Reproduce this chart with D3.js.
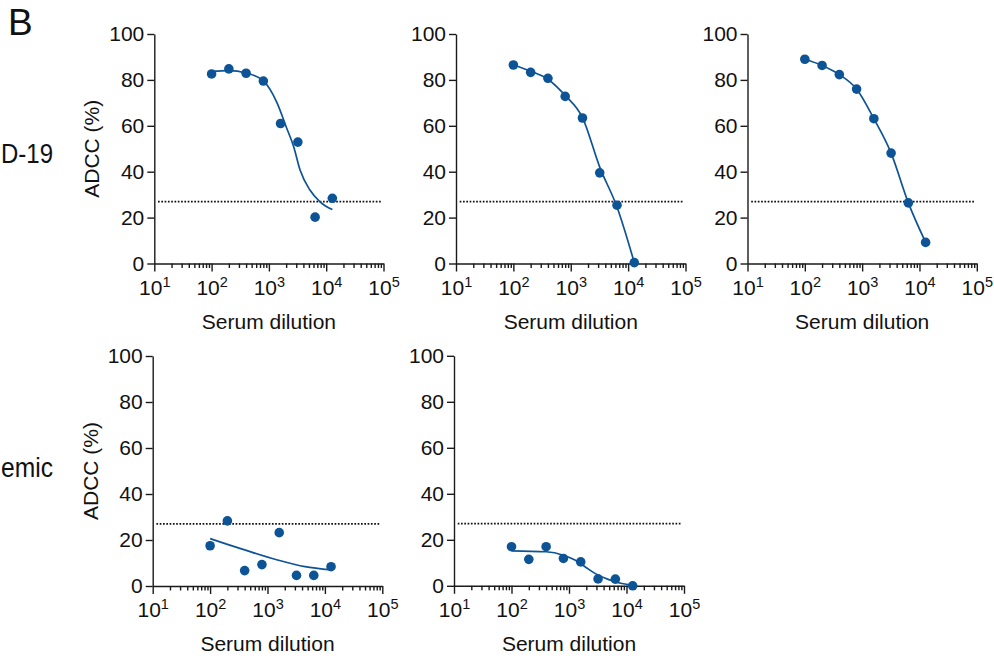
<!DOCTYPE html>
<html>
<head>
<meta charset="utf-8">
<script src="https://cdn.jsdelivr.net/npm/d3@7"></script>
<style>
  body { margin: 0; background: #fff; }
  svg { font-family: "Liberation Sans", Arial, sans-serif; }
  .axis path, .axis line { stroke: #1a1a1a; stroke-width: 1.4px; }
  .axis text { font-size: 21px; fill: #111; font-family: "Liberation Sans", Arial, sans-serif; }
</style>
</head>
<body>
<svg width="994" height="659"></svg>
<script>
// serum dilutions (x) shared by every panel
const dilutions = [100, 200, 400, 800, 1600, 3200, 6400, 12800];

// ADCC (%) measured points
const covid1 = [82.6, 84.8, 82.9, 79.5, 61.0, 52.9, 20.2, 28.4];
const covid2 = [86.5, 83.3, 80.7, 72.8, 63.4, 39.5, 25.4, 0.4];
const covid3 = [89.0, 86.3, 82.3, 76.0, 63.1, 48.1, 26.4, 9.2];
const pre1   = [17.5, 28.3, 6.7, 9.3, 23.2, 4.6, 4.6, 8.4];
const pre2   = [17.0, 11.5, 17.0, 11.9, 10.4, 3.0, 2.9, 0.0];

// fitted curves as [dilution, ADCC]
const fitCovid1 = [[100, 83.7], [200, 84.0], [400, 83.0], [800, 79.6], [1400, 69.8], [2000, 59.6],
                   [2700, 51.0], [3500, 40.7], [5200, 32.0], [7800, 26.9], [12800, 23.5]];
const fitCovid2 = [[100, 86.5], [200, 83.8], [400, 80.3], [800, 73.2], [1600, 63.6], [3200, 42.0],
                   [6400, 24.6], [12800, 0.4]];
const fitCovid3 = [[100, 89.0], [200, 86.3], [400, 82.3], [800, 76.0], [1600, 63.1], [3200, 48.1],
                   [6400, 26.4], [12800, 9.2]];
const fitPre1   = [[100, 20.6], [200, 18.1], [400, 15.7], [1500, 11.3], [4500, 8.4], [12800, 7.0]];
const fitPre2   = [[100, 15.2], [400, 14.8], [800, 13.3], [1270, 11.2], [1900, 8.3], [2830, 5.4],
                   [4800, 2.8], [8300, 1.0], [12800, 0.3]];

const cutoff = 27;                 // dotted threshold line
const cutoffSpan = [11.6, 91000];  // dilution extent of the threshold line

const xExponents = [1, 2, 3, 4, 5];
const yTicks = [0, 20, 40, 60, 80, 100];

const rowLabels = ["D-19", "emic"];   // what is left visible of the row names
const panelLetter = "B";

var blue = "#0d5497";

var svg = d3.select("svg");

// panel frames: left/right of x axis, bottom/top of y axis
var panels = [
  { x0: 154.3, x1: 383.5, y0: 263.5, y1: 34, pts: covid1, fit: fitCovid1, ytitle: true },
  { x0: 456,   x1: 685.5, y0: 263.5, y1: 34, pts: covid2, fit: fitCovid2, ytitle: false },
  { x0: 747.5, x1: 976.8, y0: 263.5, y1: 34, pts: covid3, fit: fitCovid3, ytitle: false },
  { x0: 152.7, x1: 382.3, y0: 586,   y1: 356, pts: pre1,  fit: fitPre1,   ytitle: true },
  { x0: 454,   x1: 684,   y0: 585.8, y1: 355.8, pts: pre2, fit: fitPre2,  ytitle: false }
];

var minorTicks = [];
xExponents.slice(0, -1).forEach(function (e) {
  for (var m = 2; m <= 9; m++) minorTicks.push(m * Math.pow(10, e));
});

panels.forEach(function (p) {
  var x = d3.scaleLog().domain([10, 100000]).range([p.x0, p.x1]);
  var y = d3.scaleLinear().domain([0, 100]).range([p.y0, p.y1]);
  var g = svg.append("g");

  // minor x ticks
  g.append("g")
    .attr("class", "axis")
    .attr("transform", "translate(0," + p.y0 + ")")
    .call(d3.axisBottom(x).tickValues(minorTicks).tickSize(4.5).tickSizeOuter(0).tickFormat(""))
    .select(".domain").remove();

  // major x ticks with 10^n labels
  var xa = g.append("g")
    .attr("class", "axis")
    .attr("transform", "translate(0," + p.y0 + ")")
    .call(d3.axisBottom(x)
      .tickValues(xExponents.map(function (e) { return Math.pow(10, e); }))
      .tickSize(8).tickSizeOuter(0));
  xa.selectAll(".tick text")
    .attr("y", 31).attr("dy", null)
    .each(function (d) {
      var t = d3.select(this);
      t.text(null);
      t.append("tspan").text("10");
      t.append("tspan").attr("dy", -8).style("font-size", "14.5px").text(Math.round(Math.log10(d)));
    });

  // y axis
  g.append("g")
    .attr("class", "axis")
    .attr("transform", "translate(" + p.x0 + ",0)")
    .call(d3.axisLeft(y).tickValues(yTicks).tickSize(7).tickPadding(3).tickSizeOuter(0));

  // threshold
  g.append("line")
    .attr("x1", x(cutoffSpan[0])).attr("x2", x(cutoffSpan[1]))
    .attr("y1", y(cutoff)).attr("y2", y(cutoff))
    .attr("stroke", "#111")
    .attr("stroke-width", 1.8)
    .attr("stroke-dasharray", "1.7,1.6");

  // fitted curve
  var line = d3.line()
    .x(function (d) { return x(d[0]); })
    .y(function (d) { return y(d[1]); })
    .curve(d3.curveMonotoneX);
  g.append("path")
    .datum(p.fit)
    .attr("d", line)
    .attr("fill", "none")
    .attr("stroke", blue)
    .attr("stroke-width", 1.7);

  // points
  g.selectAll("circle")
    .data(p.pts)
    .enter().append("circle")
    .attr("cx", function (d, i) { return x(dilutions[i]); })
    .attr("cy", function (d) { return y(d); })
    .attr("r", 4.8)
    .attr("fill", blue);

  // axis titles
  g.append("text")
    .attr("x", (p.x0 + p.x1) / 2)
    .attr("y", p.y0 + 65)
    .attr("text-anchor", "middle")
    .style("font-size", "21px")
    .attr("fill", "#111")
    .text("Serum dilution");

  if (p.ytitle) {
    g.append("text")
      .attr("transform", "translate(" + (p.x0 - 55) + "," + y(50) + ") rotate(-90)")
      .attr("text-anchor", "middle")
      .style("font-size", "21px")
      .attr("fill", "#111")
      .text("ADCC (%)");
  }
});

// row labels
svg.append("text")
  .attr("x", 1).attr("y", 163)
  .attr("textLength", 52).attr("lengthAdjust", "spacingAndGlyphs")
  .style("font-size", "27px")
  .attr("fill", "#111")
  .text(rowLabels[0]);
svg.append("text")
  .attr("x", 1).attr("y", 477)
  .attr("textLength", 52).attr("lengthAdjust", "spacingAndGlyphs")
  .style("font-size", "27px")
  .attr("fill", "#111")
  .text(rowLabels[1]);

svg.append("text")
  .attr("x", 8).attr("y", 35)
  .style("font-size", "37px")
  .attr("fill", "#111")
  .text(panelLetter);
</script>
</body>
</html>
